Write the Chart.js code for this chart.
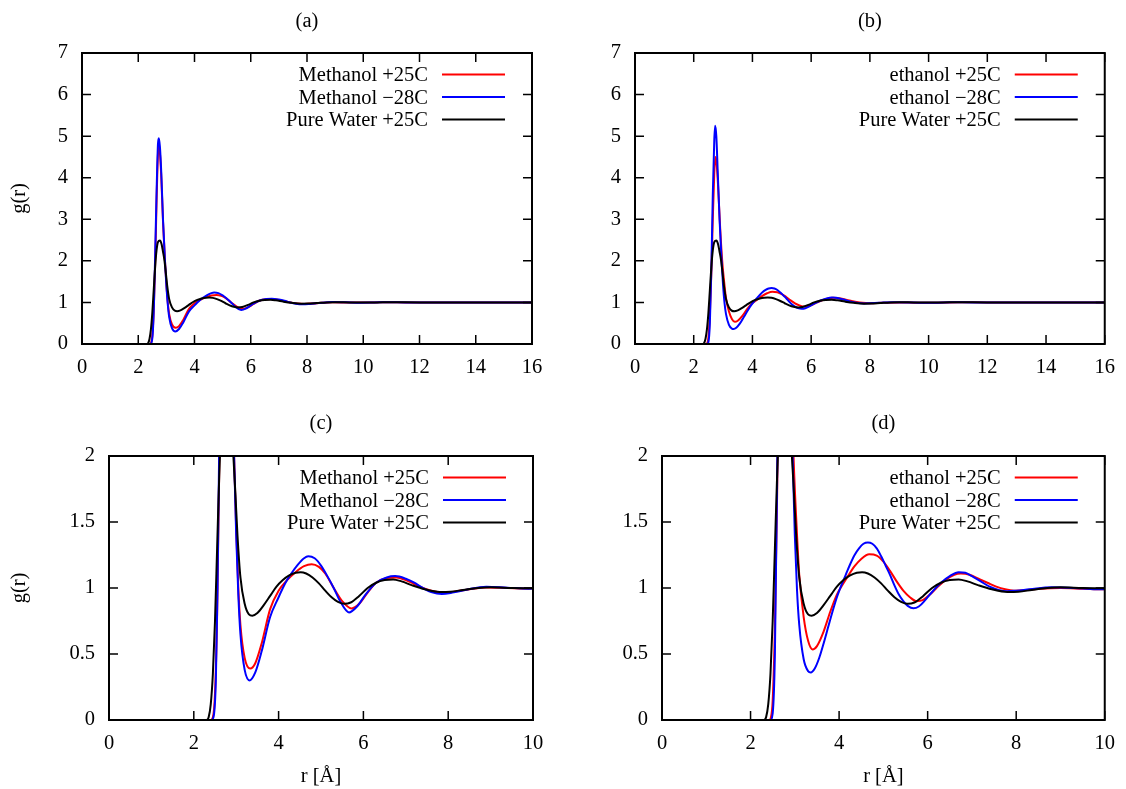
<!DOCTYPE html>
<html><head><meta charset="utf-8">
<script src="https://cdn.jsdelivr.net/npm/chart.js@4"></script>
<style>
html,body{margin:0;padding:0;background:#fff;}
#wrap{position:relative;width:1126px;height:789px;background:#fff;}
canvas{position:absolute;}
</style></head><body>
<div id="wrap">
<canvas id="ca" width="563" height="394" style="left:0;top:0"></canvas>
<canvas id="cb" width="563" height="394" style="left:563px;top:0"></canvas>
<canvas id="cc" width="563" height="395" style="left:0;top:394px"></canvas>
<canvas id="cd" width="563" height="395" style="left:563px;top:394px"></canvas>
</div>
<script>
// ---------- data ----------
const panelTitles = ['(a)', '(b)', '(c)', '(d)'];
const labelsMethanol = ['Methanol +25C', 'Methanol \u221228C', 'Pure Water +25C'];
const labelsEthanol  = ['ethanol +25C', 'ethanol \u221228C', 'Pure Water +25C'];
const yAxisLabel = 'g(r)';
const xAxisLabel = 'r [\u00c5]';

const xTicksWide = [0, 2, 4, 6, 8, 10, 12, 14, 16];
const xTickLabelsWide = ['0', '2', '4', '6', '8', '10', '12', '14', '16'];
const xTicksZoom = [0, 2, 4, 6, 8, 10];
const xTickLabelsZoom = ['0', '2', '4', '6', '8', '10'];
const yTicksWide = [0, 1, 2, 3, 4, 5, 6, 7];
const yTickLabelsWide = ['0', '1', '2', '3', '4', '5', '6', '7'];
const yTicksZoom = [0, 0.5, 1, 1.5, 2];
const yTickLabelsZoom = ['0', '0.5', '1', '1.5', '2'];

// Methanol +25C
const rMeth25 = [0, 2.40, 2.45, 2.50, 2.55, 2.60, 2.65, 2.70, 2.73, 2.77, 2.82, 2.88, 2.95, 3.00, 3.05, 3.10, 3.20, 3.33, 3.45, 3.60, 3.80, 4.00, 4.20, 4.40, 4.60, 4.78, 4.95, 5.10, 5.30, 5.50, 5.72, 5.90, 6.10, 6.30, 6.55, 6.78, 7.00, 7.20, 7.45, 7.65, 7.90, 8.20, 8.50, 8.90, 9.40, 9.90, 10.40, 10.90, 11.50, 12.5, 13.5, 14.5, 16];
const gMeth25 = [0, 0, 0.02, 0.2, 0.8, 1.9, 3.4, 4.55, 4.75, 4.6, 4.0, 2.95, 2.0, 1.45, 1.0, 0.72, 0.47, 0.39, 0.43, 0.58, 0.84, 0.98, 1.06, 1.12, 1.165, 1.18, 1.16, 1.11, 1.0, 0.90, 0.845, 0.88, 0.965, 1.04, 1.075, 1.08, 1.06, 1.03, 0.995, 0.975, 0.965, 0.975, 0.99, 1.003, 1.0, 0.996, 1.0, 1.005, 1.0, 1.0, 1.0, 1.0, 1.0];

// Methanol -28C
const rMethM28 = [0, 2.42, 2.47, 2.52, 2.56, 2.60, 2.65, 2.70, 2.73, 2.77, 2.82, 2.88, 2.95, 3.00, 3.05, 3.10, 3.20, 3.32, 3.45, 3.60, 3.80, 4.00, 4.10, 4.20, 4.30, 4.45, 4.60, 4.70, 4.85, 5.00, 5.15, 5.30, 5.45, 5.66, 5.85, 6.05, 6.30, 6.55, 6.75, 7.00, 7.20, 7.40, 7.60, 7.85, 8.10, 8.40, 8.90, 9.40, 9.90, 10.40, 10.90, 11.50, 12.5, 13.5, 14.5, 16];
const gMethM28 = [0, 0, 0.03, 0.3, 1.0, 2.1, 3.6, 4.8, 4.95, 4.75, 4.1, 3.0, 2.0, 1.4, 0.95, 0.65, 0.38, 0.30, 0.36, 0.52, 0.78, 0.93, 1.0, 1.06, 1.11, 1.175, 1.225, 1.24, 1.225, 1.17, 1.09, 1.0, 0.9, 0.815, 0.86, 0.95, 1.04, 1.08, 1.09, 1.07, 1.04, 1.0, 0.97, 0.955, 0.965, 0.985, 1.01, 1.002, 0.995, 1.0, 1.007, 1.0, 1.0, 1.0, 1.0, 1.0];

// Pure water +25C
const rWater = [0, 2.30, 2.35, 2.40, 2.45, 2.50, 2.55, 2.60, 2.65, 2.70, 2.77, 2.83, 2.88, 2.93, 2.98, 3.03, 3.10, 3.20, 3.30, 3.38, 3.50, 3.65, 3.80, 3.95, 4.10, 4.25, 4.40, 4.52, 4.65, 4.80, 4.95, 5.10, 5.25, 5.40, 5.55, 5.70, 5.90, 6.10, 6.30, 6.50, 6.70, 6.90, 7.15, 7.45, 7.80, 8.05, 8.35, 8.70, 9.0, 9.5, 10.0, 10.5, 11.0, 12, 13, 14, 15, 16];
const gWater = [0, 0, 0.02, 0.12, 0.35, 0.75, 1.3, 1.85, 2.25, 2.45, 2.49, 2.40, 2.22, 2.02, 1.72, 1.4, 1.08, 0.88, 0.80, 0.79, 0.81, 0.87, 0.94, 1.01, 1.06, 1.095, 1.115, 1.12, 1.11, 1.08, 1.035, 0.98, 0.93, 0.895, 0.88, 0.89, 0.94, 1.0, 1.04, 1.06, 1.065, 1.05, 1.02, 0.99, 0.97, 0.972, 0.985, 1.0, 1.005, 1.0, 0.998, 1.0, 1.004, 1.0, 1.0, 1.0, 1.0, 1.0];

// Ethanol +25C
const rEth25 = [0, 2.42, 2.46, 2.50, 2.55, 2.60, 2.65, 2.70, 2.74, 2.78, 2.83, 2.90, 2.97, 3.05, 3.10, 3.20, 3.30, 3.40, 3.50, 3.65, 3.80, 3.95, 4.05, 4.20, 4.35, 4.50, 4.68, 4.85, 5.00, 5.15, 5.30, 5.45, 5.60, 5.75, 5.90, 6.05, 6.20, 6.40, 6.60, 6.75, 6.95, 7.15, 7.35, 7.55, 7.75, 7.95, 8.25, 8.55, 9.0, 9.5, 10.0, 10.5, 11.0, 12, 13, 14, 15, 16];
const gEth25 = [0, 0, 0.02, 0.15, 0.7, 1.7, 3.0, 4.1, 4.5, 4.35, 3.8, 2.8, 2.0, 1.4, 1.1, 0.78, 0.6, 0.535, 0.56, 0.67, 0.82, 0.95, 1.01, 1.09, 1.165, 1.22, 1.255, 1.245, 1.2, 1.13, 1.05, 0.98, 0.93, 0.90, 0.91, 0.95, 1.0, 1.06, 1.10, 1.11, 1.10, 1.07, 1.04, 1.01, 0.99, 0.98, 0.985, 0.995, 1.0, 0.995, 0.99, 0.997, 1.005, 1.0, 1.0, 1.0, 1.0, 1.0];

// Ethanol -28C
const rEthM28 = [0, 2.45, 2.50, 2.55, 2.60, 2.65, 2.70, 2.73, 2.77, 2.82, 2.88, 2.95, 3.00, 3.05, 3.10, 3.20, 3.30, 3.36, 3.45, 3.55, 3.65, 3.75, 3.85, 3.95, 4.05, 4.15, 4.25, 4.35, 4.45, 4.55, 4.65, 4.75, 4.85, 4.95, 5.05, 5.15, 5.25, 5.35, 5.45, 5.55, 5.68, 5.80, 5.95, 6.10, 6.30, 6.50, 6.70, 6.85, 7.00, 7.20, 7.40, 7.60, 7.80, 8.00, 8.30, 8.80, 9.30, 9.80, 10.3, 10.8, 11.5, 12.5, 13.5, 14.5, 16];
const gEthM28 = [0, 0, 0.05, 0.5, 1.8, 3.6, 4.9, 5.25, 5.0, 4.1, 3.0, 2.0, 1.4, 0.98, 0.72, 0.46, 0.37, 0.36, 0.39, 0.47, 0.58, 0.70, 0.82, 0.93, 1.02, 1.10, 1.18, 1.25, 1.30, 1.335, 1.345, 1.335, 1.30, 1.24, 1.17, 1.10, 1.02, 0.95, 0.90, 0.865, 0.847, 0.86, 0.91, 0.97, 1.04, 1.09, 1.12, 1.115, 1.09, 1.05, 1.01, 0.985, 0.975, 0.98, 0.99, 1.005, 1.0, 0.99, 0.995, 1.005, 1.0, 1.0, 1.0, 1.0, 1.0];

const seriesColors = ['#ff0000', '#0000ff', '#000000'];

// ---------- drawing ----------
const FONT = '"Liberation Serif", "Times New Roman", serif';
const FS = 20.5;

const gnuFrame = {
  id: 'gnuFrame',
  afterDatasetsDraw(chart) {
    const {ctx, chartArea: a, scales: {x, y}} = chart;
    const T = 9;
    ctx.save();
    ctx.strokeStyle = '#000';
    ctx.lineWidth = 1.5;
    ctx.beginPath();
    x.ticks.forEach(t => {
      const px = x.getPixelForValue(t.value);
      ctx.moveTo(px, a.bottom); ctx.lineTo(px, a.bottom - T);
      ctx.moveTo(px, a.top); ctx.lineTo(px, a.top + T);
    });
    y.ticks.forEach(t => {
      const py = y.getPixelForValue(t.value);
      ctx.moveTo(a.left, py); ctx.lineTo(a.left + T, py);
      ctx.moveTo(a.right, py); ctx.lineTo(a.right - T, py);
    });
    ctx.stroke();
    ctx.lineWidth = 2;
    ctx.strokeRect(a.left, a.top, a.right - a.left, a.bottom - a.top);
    // key (gnuplot style: right-aligned text, sample line on the right)
    ctx.font = FS + 'px ' + FONT;
    ctx.textAlign = 'right';
    ctx.textBaseline = 'middle';
    chart.data.datasets.forEach((ds, i) => {
      const yy = a.top + 21.5 + i * 22.5;
      ctx.fillStyle = '#000';
      ctx.fillText(ds.label, a.right - 104, yy + 1.5);
      ctx.strokeStyle = ds.borderColor;
      ctx.lineWidth = 2;
      ctx.beginPath();
      ctx.moveTo(a.right - 90, yy);
      ctx.lineTo(a.right - 27, yy);
      ctx.stroke();
    });
    ctx.restore();
  }
};

function makeChart(id, cfg) {
  const datasets = cfg.series.map((s, i) => ({
    label: s.label,
    data: s.r.map((r, k) => ({x: r, y: s.g[k]})),
    borderColor: seriesColors[i],
    backgroundColor: seriesColors[i],
    borderWidth: 2,
    pointRadius: 0,
    fill: false,
    cubicInterpolationMode: 'monotone',
    order: 2 - i,
    clip: 0
  }));
  const font = {family: FONT, size: FS, weight: 'normal'};
  return new Chart(document.getElementById(id), {
    type: 'line',
    data: {datasets},
    options: {
      responsive: false,
      animation: false,
      devicePixelRatio: 1,
      layout: {padding: {top: 0, left: 0, bottom: 0, right: cfg.padRight}},
      plugins: {
        legend: {display: false},
        tooltip: {enabled: false},
        title: {
          display: true, text: cfg.title, fullSize: false,
          font, color: '#000',
          padding: {top: cfg.tTop, bottom: cfg.tBottom}
        }
      },
      scales: {
        x: {
          type: 'linear', min: 0, max: cfg.xTicks[cfg.xTicks.length - 1],
          afterBuildTicks: s => { s.ticks = cfg.xTicks.map(v => ({value: v})); },
          afterFit: s => { s.height = cfg.xH; },
          grid: {display: false, drawTicks: false},
          border: {display: false},
          ticks: {padding: 11, maxRotation: 0, autoSkip: false, font, color: '#000',
                  callback: (v, i) => cfg.xLabels[i]},
          title: cfg.xTitle ? {display: true, text: cfg.xTitle, font, color: '#000', padding: {top: 0, bottom: 0}} : {display: false}
        },
        y: {
          type: 'linear', min: 0, max: cfg.yTicks[cfg.yTicks.length - 1],
          afterBuildTicks: s => { s.ticks = cfg.yTicks.map(v => ({value: v})); },
          afterFit: s => { s.width = cfg.yW; },
          grid: {display: false, drawTicks: false},
          border: {display: false},
          ticks: {padding: 14, autoSkip: false, font, color: '#000',
                  callback: (v, i) => cfg.yLabels[i]},
          title: cfg.yTitle ? {display: true, text: cfg.yTitle, font, color: '#000', padding: {top: 7, bottom: 0}} : {display: false}
        }
      }
    },
    plugins: [gnuFrame]
  });
}

const methSeries = [
  {label: labelsMethanol[0], r: rMeth25, g: gMeth25},
  {label: labelsMethanol[1], r: rMethM28, g: gMethM28},
  {label: labelsMethanol[2], r: rWater, g: gWater}
];
const ethSeries = [
  {label: labelsEthanol[0], r: rEth25, g: gEth25},
  {label: labelsEthanol[1], r: rEthM28, g: gEthM28},
  {label: labelsEthanol[2], r: rWater, g: gWater}
];

makeChart('ca', {series: methSeries, title: panelTitles[0], tTop: 9, tBottom: 19.4, padRight: 31, yW: 82, xH: 50,
  xTicks: xTicksWide, xLabels: xTickLabelsWide, yTicks: yTicksWide, yLabels: yTickLabelsWide, yTitle: yAxisLabel});
makeChart('cb', {series: ethSeries, title: panelTitles[1], tTop: 9, tBottom: 19.4, padRight: 16, yW: 72, xH: 50,
  xTicks: xTicksWide, xLabels: xTickLabelsWide, yTicks: yTicksWide, yLabels: yTickLabelsWide});
makeChart('cc', {series: methSeries, title: panelTitles[2], tTop: 17, tBottom: 20.4, padRight: 30, yW: 109, xH: 69,
  xTicks: xTicksZoom, xLabels: xTickLabelsZoom, yTicks: yTicksZoom, yLabels: yTickLabelsZoom, yTitle: yAxisLabel, xTitle: xAxisLabel});
makeChart('cd', {series: ethSeries, title: panelTitles[3], tTop: 17, tBottom: 20.4, padRight: 16, yW: 99, xH: 69,
  xTicks: xTicksZoom, xLabels: xTickLabelsZoom, yTicks: yTicksZoom, yLabels: yTickLabelsZoom, xTitle: xAxisLabel});
</script>
</body></html>
